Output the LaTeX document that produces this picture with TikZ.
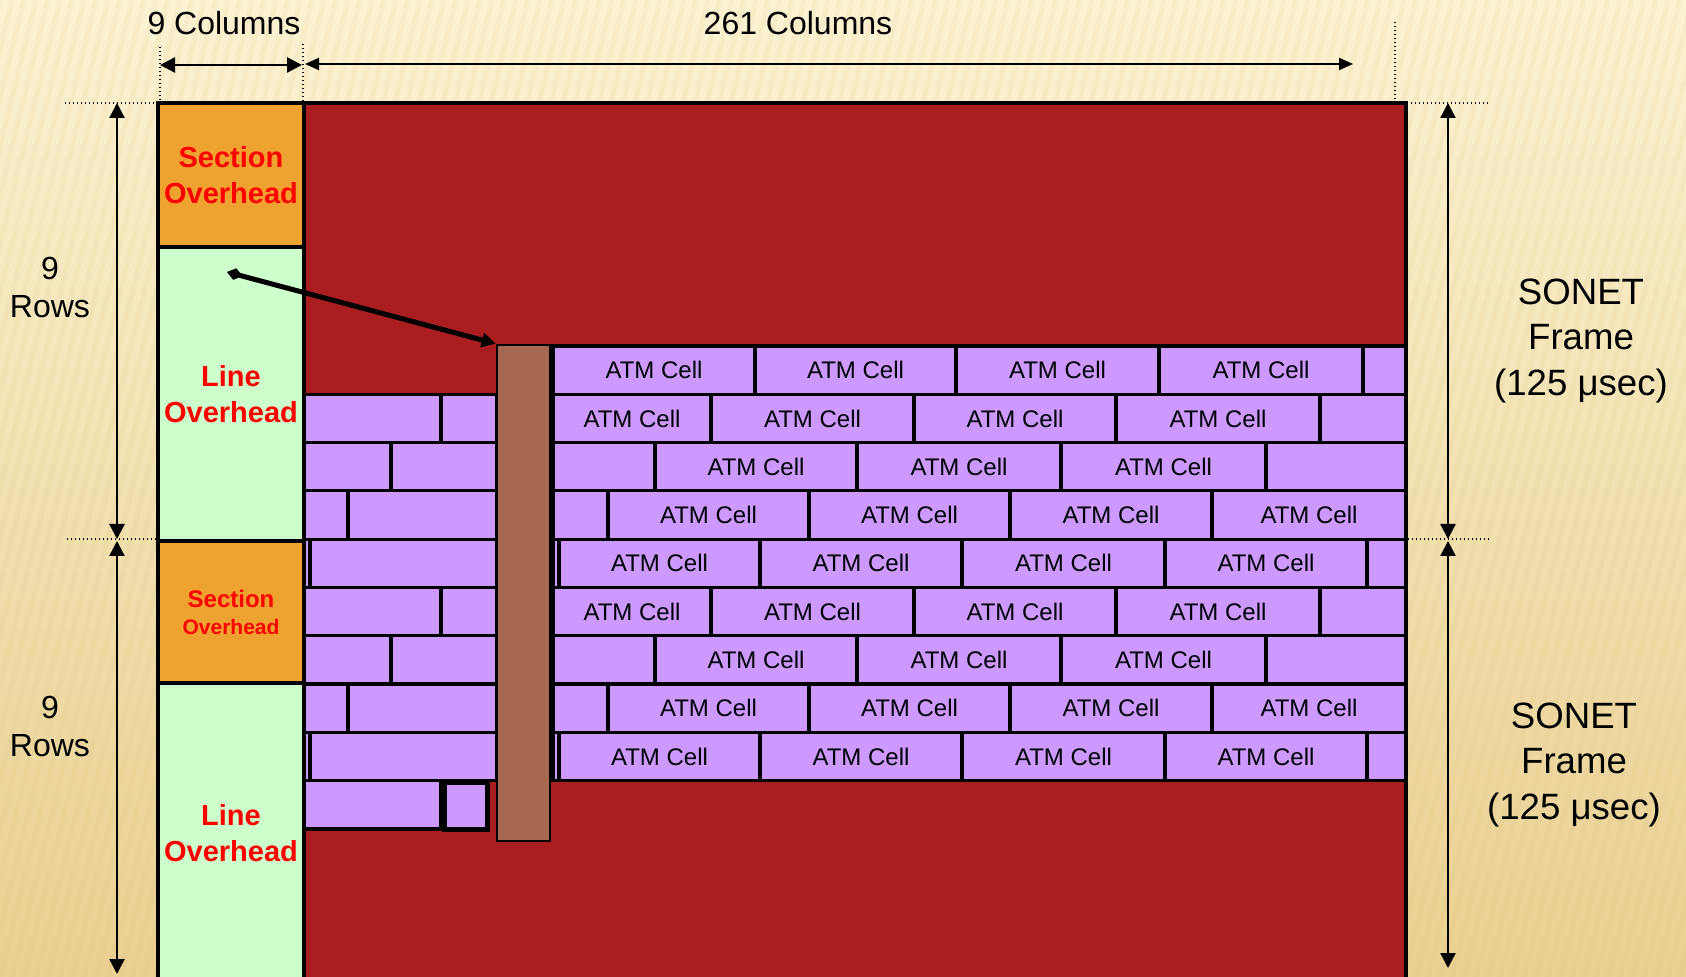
\documentclass[tikz,border=0pt]{standalone}
\usepackage{fontspec}
\setmainfont{Liberation Sans}
\usetikzlibrary{arrows.meta}
\definecolor{bgtop}{HTML}{FCF3D3}
\definecolor{bgbot}{HTML}{EAD092}
\definecolor{stripe}{RGB}{200,168,90}
\definecolor{framered}{HTML}{AA1E1F}
\definecolor{sohorange}{HTML}{EEA230}
\definecolor{lohgreen}{HTML}{CCFFCC}
\definecolor{cellpurple}{HTML}{CC99FF}
\definecolor{pohbrown}{HTML}{A66850}
\definecolor{ovhred}{HTML}{FF0000}
\tikzset{
  cellb/.style={draw=black, line width=1.6pt, fill=cellpurple, inner sep=0pt,
    font=\fontsize{12}{14}\selectfont},
  ovh/.style={draw=black, line width=2pt, inner sep=0pt, align=center, text=ovhred,
    font=\fontsize{14.5}{18}\selectfont\bfseries},
  dimtext/.style={font=\fontsize{16}{19}\selectfont, align=center, inner sep=0pt},
  sonet/.style={font=\fontsize{18.3}{22.7}\selectfont, align=center, inner sep=0pt},
  dotline/.style={line width=0.7pt, dash pattern=on 0.7pt off 1.3pt},
  dimarrow/.style={line width=1.2pt, {Triangle[length=7.5pt,width=7.5pt]}-{Triangle[length=7.5pt,width=7.5pt]}},
  thinarrow/.style={line width=1pt, {Triangle[length=7pt,width=6pt]}-{Triangle[length=7pt,width=6pt]}},
  ptr/.style={line width=2.5pt, {Diamond[length=8pt,width=6pt]}-{Triangle[length=7pt,width=7pt]}},
}
% \boxat{name}{style}{x1}{y1}{x2}{y2}{text}
\newcommand\boxat[7]{%
  \node[#2, minimum width={(#5-#3)*0.5pt}, minimum height={(#6-#4)*0.5pt}]
    (#1) at ({(#3+#5)/2},{(#4+#6)/2}) {#7};%
}
\newcommand\cellrow[4]{%
  \foreach \xa/\xb/\lab [count=\k] in {#4} {%
    \boxat{r#1c\k}{cellb}{\xa}{#2}{\xb}{#3}{\ifnum\lab=1 ATM Cell\fi}
  }%
}
\begin{document}
\begin{tikzpicture}[x=0.5pt,y=-0.5pt]
\useasboundingbox (0,0) rectangle (1686,977);
\clip (0,0) rectangle (1686,977);
% background
\shade[top color=bgtop, bottom color=bgbot] (0,0) rectangle (1686,977);
\foreach \i in {-30,...,145} {
  \draw[stripe, opacity=0.08, line width=2.5pt] ({\i*12},977) -- ({\i*12+240},0);
}
% frame
\boxat{frame}{draw=black, line width=2pt, fill=framered, inner sep=0pt}{158}{103}{1406}{990}{}
% overhead column
\boxat{soh1}{ovh, fill=sohorange}{158}{103}{304}{247}{Section\\Overhead}
\boxat{loh1}{ovh, fill=lohgreen}{158}{247}{304}{541}{Line\\Overhead}
\boxat{soh2}{ovh, fill=sohorange, font=\fontsize{10.5}{13.5}\selectfont\bfseries}{158}{541}{304}{683}{{\fontsize{12}{13.5}\selectfont Section}\\Overhead}
\boxat{loh2}{ovh, fill=lohgreen}{158}{683}{304}{983}{Line\\Overhead}
% ATM cells
\cellrow{1}{346}{394.3}{553/755/1,755/956/1,956/1159/1,1159/1363/1,1363/1406/0}
\cellrow{2}{394.3}{442.6}{304/441/0,441/497/0,553/711/1,711/914/1,914/1116/1,1116/1320/1,1320/1406/0}
\cellrow{3}{442.6}{490.9}{304/391/0,391/497/0,553/655/0,655/857/1,857/1061/1,1061/1266/1,1266/1406/0}
\cellrow{4}{490.9}{539.2}{304/348/0,348/497/0,553/608/0,608/809/1,809/1010/1,1010/1212/1,1212/1406/1}
\cellrow{5}{539.2}{587.5}{304/310/0,310/497/0,553/559/0,559/760/1,760/962/1,962/1165/1,1165/1367/1,1367/1406/0}
\cellrow{6}{587.5}{635.8}{304/441/0,441/497/0,553/711/1,711/914/1,914/1116/1,1116/1320/1,1320/1406/0}
\cellrow{7}{635.8}{684.1}{304/391/0,391/497/0,553/655/0,655/857/1,857/1061/1,1061/1266/1,1266/1406/0}
\cellrow{8}{684.1}{732.4}{304/348/0,348/497/0,553/608/0,608/809/1,809/1010/1,1010/1212/1,1212/1406/1}
\cellrow{9}{732.4}{780.7}{304/310/0,310/497/0,553/559/0,559/760/1,760/962/1,962/1165/1,1165/1367/1,1367/1406/0}
\boxat{r10c1}{cellb}{304}{780.7}{441}{829}{}
\boxat{r10c2}{cellb, line width=2.5pt}{444.5}{782.5}{487.5}{829.5}{}
% path overhead column
\boxat{poh}{draw=black, line width=1.3pt, fill=pohbrown, inner sep=0pt}{497}{345}{550}{841}{}
% pointer arrow
\coordinate (pstart) at (227,272);
\draw[ptr] (pstart) -- (poh.north west);
% dotted extension lines
\coordinate (d1a) at (160,47);   \coordinate (d1b) at (160,103);
\coordinate (d2a) at (303,44);   \coordinate (d2b) at (303,103);
\coordinate (d3a) at (1395,22);  \coordinate (d3b) at (1395,103);
\coordinate (h1a) at (65,103);   \coordinate (h1b) at (158,103);
\coordinate (h2a) at (1407,103); \coordinate (h2b) at (1490,103);
\coordinate (h3a) at (67,539);   \coordinate (h3b) at (157,539);
\coordinate (h4a) at (1408,539); \coordinate (h4b) at (1490,539);
\foreach \p in {d1,d2,d3,h1,h2,h3,h4} { \draw[dotline] (\p a) -- (\p b); }
% dimension arrows
\coordinate (c9a) at (160,65);  \coordinate (c9b) at (302,65);
\coordinate (c261a) at (305,64); \coordinate (c261b) at (1353,64);
\draw[dimarrow] (c9a) -- (c9b);
\draw[thinarrow] (c261a) -- (c261b);
\coordinate (l1a) at (117,103); \coordinate (l1b) at (117,539);
\coordinate (l2a) at (117,541); \coordinate (l2b) at (117,974);
\coordinate (g1a) at (1448,103); \coordinate (g1b) at (1448,539);
\coordinate (g2a) at (1448,541); \coordinate (g2b) at (1448,968);
\draw[dimarrow] (l1a) -- (l1b);
\draw[dimarrow] (l2a) -- (l2b);
\draw[dimarrow] (g1a) -- (g1b);
\draw[dimarrow] (g2a) -- (g2b);
% labels
\node[dimtext] (col9) at (224,23) {9 Columns};
\node[dimtext] (col261) at (798,23) {261 Columns};
\node[dimtext] (rows1) at (50,287) {9\\Rows};
\node[dimtext] (rows2) at (50,726) {9\\Rows};
\node[sonet] (sonet1) at (1581,341) {SONET\\Frame\\(125 μsec)};
\node[sonet] (sonet2) at (1574,765) {SONET\\Frame\\(125 μsec)};
\end{tikzpicture}
\end{document}
